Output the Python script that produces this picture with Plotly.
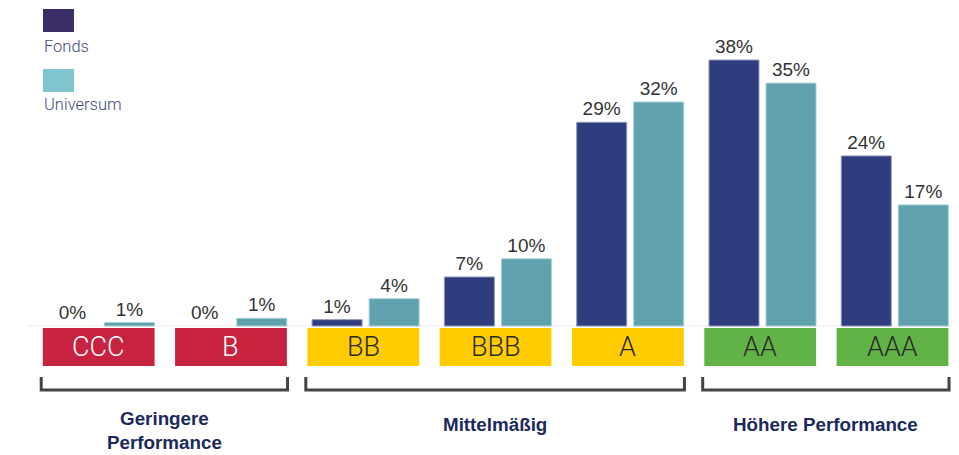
import plotly.graph_objects as go

categories = ["CCC", "B", "BB", "BBB", "A", "AA", "AAA"]
fonds_values = [0.0, 0.0, 0.9, 7.0, 29.1, 38.0, 24.3]
universum_values = [0.5, 1.1, 3.9, 9.6, 32.0, 34.7, 17.3]
fonds_labels = ["0%", "0%", "1%", "7%", "29%", "38%", "24%"]
universum_labels = ["1%", "1%", "4%", "10%", "32%", "35%", "17%"]
box_colors = ["#C8233E", "#C8233E", "#FFCC00", "#FFCC00", "#FFCC00", "#62B346", "#62B346"]
box_text_colors = ["#FFFFFF", "#FFFFFF", "#2A2A2A", "#2A2A2A", "#2A2A2A", "#2A2A2A", "#2A2A2A"]
groups = [
    {"label": "Geringere<br>Performance", "first": 0, "last": 1},
    {"label": "Mittelmäßig", "first": 2, "last": 4},
    {"label": "Höhere Performance", "first": 5, "last": 6},
]

W, H = 959, 455
OFF = 8  # page body margin offset
PX_PER_CAT = 132.3
CAT0_PX = 101.0
BASE_PX = 326.0
PX_PER_PCT = 7.0


def yv(py):
    return (BASE_PX - py) / PX_PER_PCT


def xv(px):
    return (px - CAT0_PX) / PX_PER_CAT


fig = go.Figure()
fig.add_trace(go.Bar(
    name="Fonds", x=list(range(len(categories))), y=fonds_values,
    text=fonds_labels, textposition="outside", cliponaxis=False,
    textfont=dict(family="Liberation Sans, Arial", size=19, color="#333333"),
    marker=dict(color="#2F3D7F",
                line=dict(width=[0 if v == 0 else 1 for v in fonds_values], color="#8E97BE")),
    hoverinfo="skip",
))
fig.add_trace(go.Bar(
    name="Universum", x=list(range(len(categories))), y=universum_values,
    text=universum_labels, textposition="outside", cliponaxis=False,
    textfont=dict(family="Liberation Sans, Arial", size=19, color="#333333"),
    marker=dict(color="#5FA2AE", line=dict(width=1, color="#A9D0D6")),
    hoverinfo="skip",
))

shapes = []
annotations = []

# baseline
shapes.append(dict(type="line", xref="paper", yref="y", x0=0.02, x1=1, y0=0, y1=0,
                   line=dict(color="#ECECEC", width=1), layer="below"))

# rating boxes
for i, (cat, col, tcol) in enumerate(zip(categories, box_colors, box_text_colors)):
    x0, x1 = i - 0.44, i + 0.405
    shapes.append(dict(type="rect", xref="x", yref="y", x0=x0, x1=x1,
                       y0=yv(328), y1=yv(366), fillcolor=col, line=dict(width=0)))
    annotations.append(dict(x=(x0 + x1) / 2, y=yv(347), xref="x", yref="y", text=cat,
                            showarrow=False, xanchor="center", yanchor="middle",
                            font=dict(family="Roboto", size=27, color=tcol, weight=300)))

# group brackets and labels
for g in groups:
    x0 = g["first"] - 0.452
    x1 = g["last"] + 0.41
    shapes.append(dict(type="path", xref="x", yref="y",
                       path=f"M {x0},{yv(377)} L {x0},{yv(390)} L {x1},{yv(390)} L {x1},{yv(377)}",
                       line=dict(color="#444444", width=3)))
    is_two = "<br>" in g["label"]
    annotations.append(dict(x=(x0 + x1) / 2, y=yv(430 if is_two else 424), xref="x", yref="y",
                            text=f"<b>{g['label']}</b>", showarrow=False,
                            xanchor="center", yanchor="middle",
                            font=dict(family="Liberation Sans, Arial", size=18.8, color="#1B2A5C")))

# legend
legend_items = [("Fonds", "#3B2E66", 9, 46), ("Universum", "#7FC4CE", 69, 104)]
for name, col, sq_top, text_y in legend_items:
    shapes.append(dict(type="rect", xref="x", yref="y", x0=xv(43), x1=xv(74),
                       y0=yv(sq_top), y1=yv(sq_top + 23), fillcolor=col, line=dict(width=0)))
    annotations.append(dict(x=xv(42), y=yv(text_y), xref="x", yref="y", text=name,
                            showarrow=False, xanchor="left", yanchor="middle",
                            font=dict(family="Roboto", size=16.5, color="#3D4A7E", weight=300)))

fig.update_layout(
    width=W, height=H,
    margin=dict(l=0, r=0, t=0, b=0),
    paper_bgcolor="white", plot_bgcolor="white",
    barmode="group", bargap=0.138, bargroupgap=0.123,
    showlegend=False,
    # axes span the page-pixel frame shifted by the body margin
    xaxis=dict(range=[xv(OFF), xv(W + OFF)], showgrid=False, zeroline=False, showticklabels=False,
               showline=False, fixedrange=True),
    yaxis=dict(range=[yv(H + OFF), yv(OFF)], showgrid=False, zeroline=False, showticklabels=False,
               showline=False, fixedrange=True),
    shapes=shapes, annotations=annotations,
)

fig.write_html("out.html")
